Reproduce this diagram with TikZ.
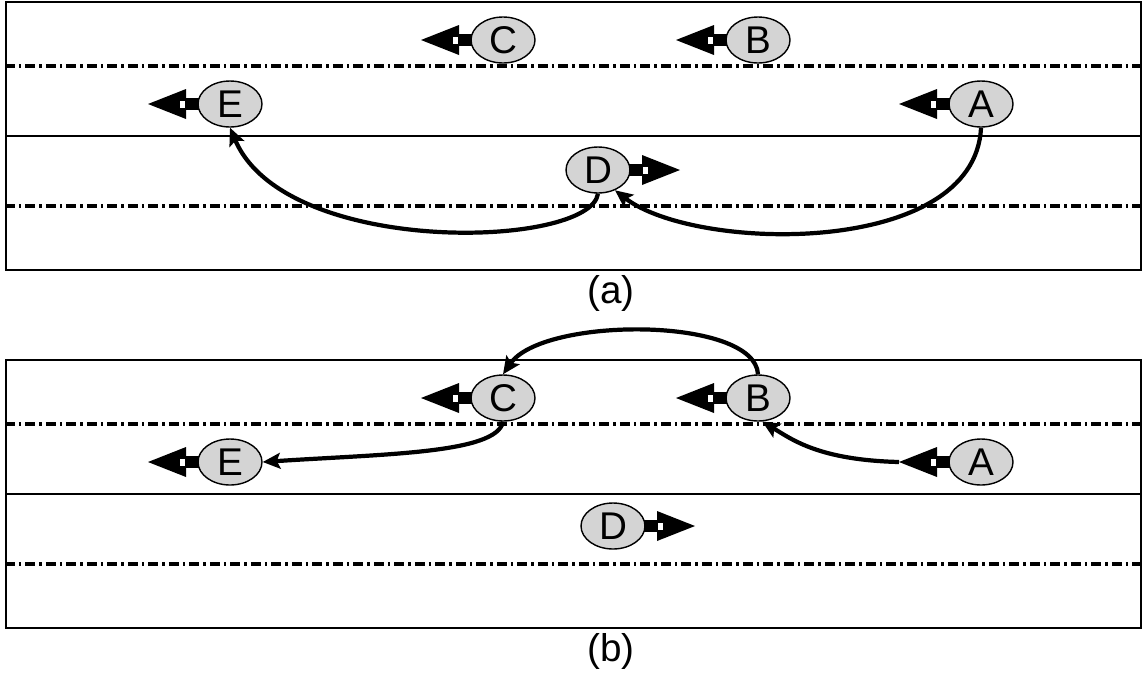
\documentclass[tikz,border=0pt]{standalone}
\usepackage{fontspec}
\setmainfont{Liberation Sans}
\usepackage{tikz}
\usetikzlibrary{arrows.meta,shapes.geometric}
\tikzset{
    %Define style for the vehicles
    carnode/.style={
           ellipse,
           draw=black, line width=0.8pt,
           fill=black!17,
           minimum width=1.28cm,
           minimum height=0.92cm,
           inner sep=0pt,
           font=\fontsize{22}{26}\selectfont},
    road/.style={draw=black, line width=0.9pt},
    lanemark/.style={
           draw=black, line width=2pt,
           dash pattern=on 0.2cm off 0.08cm on 0.05cm off 0.08cm},
    moveline/.style={
           draw=black, line width=2.4pt,
           -{Stealth[length=10pt,width=9pt,inset=2pt]}}
}
% arrow head in front of a vehicle: #1 node, #2 = 1 (right) or -1 (left)
\def\carhead#1#2{%
  \begin{scope}[shift={(#1.center)},xscale=#2]
    \fill (82,0) -- (44,-15) -- (44,15) -- cycle;
    \fill (31,-6) rectangle (51,6);
    \fill[white] (45,-3.5) rectangle (50,3.5);
    \coordinate (#1tip) at (82,0);
  \end{scope}}

\begin{document}
\begin{tikzpicture}[x=0.02cm, y=-0.02cm]
\useasboundingbox (0,0) rectangle (1142,677);
% the two road sections
\foreach \oy/\lab in {0/a,358/b}{
  \draw[road] (6,2+\oy) rectangle (1141,270+\oy);
  \draw[road] (6,136+\oy) -- (1141,136+\oy);
  \draw[lanemark] (5,66+\oy) -- (1141,66+\oy);
  \draw[lanemark] (5,206+\oy) -- (1141,206+\oy);
  \node[font=\fontsize{22}{26}\selectfont] (cap\lab) at (611,293+\oy) {(\lab)};
}
% (a)
\node[carnode] (Ca) at (503,40) {C};
\node[carnode] (Ba) at (758,40) {B};
\node[carnode] (Ea) at (230,104) {E};
\node[carnode] (Aa) at (981,104) {A};
\node[carnode] (Da) at (598,170) {D};
\carhead{Ca}{-1}
\carhead{Ba}{-1}
\carhead{Ea}{-1}
\carhead{Aa}{-1}
\carhead{Da}{1}
\draw[moveline] (Aa.south) .. controls +(-6,130) and +(80,62) .. (Da.-50);
\draw[moveline] (Da.south) .. controls +(-8,55) and +(55,130) .. (Ea.south);
% (b)
\node[carnode] (Cb) at (503,398) {C};
\node[carnode] (Bb) at (758,398) {B};
\node[carnode] (Eb) at (230,462) {E};
\node[carnode] (Ab) at (981,462) {A};
\node[carnode] (Db) at (613,526) {D};
\carhead{Cb}{-1}
\carhead{Bb}{-1}
\carhead{Eb}{-1}
\carhead{Ab}{-1}
\carhead{Db}{1}
\draw[moveline] (Bb.north) .. controls +(-3,-58) and +(40,-58) .. (Cb.north);
\draw[moveline] (Cb.south) .. controls +(-6,32) and +(120,-8) .. (Eb.east);
\draw[moveline] (Abtip) .. controls +(-80,-2) and +(30,18) .. (Bb.-80);
\end{tikzpicture}
\end{document}
